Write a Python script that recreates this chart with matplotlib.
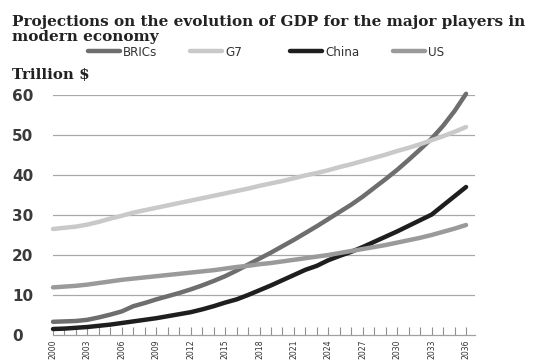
import numpy as np
import matplotlib.pyplot as plt
from matplotlib.ticker import MultipleLocator
from matplotlib import font_manager

# data (trillion $)
years = np.arange(2000, 2037)
brics = [3.3, 3.4, 3.5, 3.8, 4.4, 5.1, 5.9, 7.2, 8.0, 8.9,
         9.7, 10.5, 11.4, 12.4, 13.5, 14.7, 16.1, 17.6, 19.1, 20.6,
         22.2, 23.8, 25.5, 27.2, 29.0, 30.8, 32.6, 34.6, 36.8, 39.0,
         41.3, 43.8, 46.4, 49.1, 52.3, 56.0, 60.3]
g7 = [26.5, 26.8, 27.1, 27.6, 28.3, 29.1, 29.8, 30.6, 31.2, 31.8,
      32.4, 33.0, 33.6, 34.2, 34.8, 35.4, 36.0, 36.6, 37.3, 37.9,
      38.5, 39.2, 39.9, 40.5, 41.2, 42.0, 42.7, 43.5, 44.3, 45.1,
      46.0, 46.8, 47.7, 48.7, 49.7, 50.8, 52.0]
china = [1.5, 1.6, 1.8, 2.0, 2.3, 2.6, 3.0, 3.4, 3.8, 4.2,
         4.7, 5.2, 5.7, 6.4, 7.2, 8.1, 8.9, 10.0, 11.2, 12.4,
         13.7, 15.0, 16.3, 17.3, 18.7, 19.8, 20.8, 22.0, 23.3, 24.6,
         25.9, 27.3, 28.7, 30.1, 32.4, 34.7, 37.0]
us = [11.9, 12.1, 12.3, 12.6, 13.0, 13.4, 13.8, 14.1, 14.4, 14.7,
      15.0, 15.3, 15.6, 15.9, 16.2, 16.6, 17.0, 17.3, 17.7, 18.0,
      18.4, 18.8, 19.2, 19.6, 20.0, 20.5, 21.0, 21.5, 22.0, 22.5,
      23.1, 23.7, 24.3, 25.0, 25.8, 26.6, 27.5]

series = [('BRICs', brics, '#6e6e6e'),
          ('G7', g7, '#c9c9c9'),
          ('China', china, '#1e1e1e'),
          ('US', us, '#9a9a9a')]

# condensed sans for legend and year labels
cond = font_manager.FontProperties(family='DejaVu Sans', stretch='condensed', size=9.5)
cond_x = font_manager.FontProperties(family='DejaVu Sans', stretch='condensed', size=6.2)

W, H = 533, 361
fig = plt.figure(figsize=(W / 100, H / 100), dpi=100)
ax = fig.add_axes([53 / W, 1 - 335 / H, (475 - 53) / W, (335 - 95) / H])

lines = []
for name, vals, col in series:
    ln, = ax.plot(years, vals, color=col, lw=3.2, label=name,
                  solid_capstyle='round', clip_on=False, zorder=3)
    lines.append(ln)

ax.set_xlim(2000, 2036.78)
ax.set_ylim(0, 60)

# grid lines
for v in range(10, 70, 10):
    ax.axhline(v, color='#a8a8a8', lw=0.9, zorder=1)

for s in ['top', 'right', 'left']:
    ax.spines[s].set_visible(False)
ax.spines['bottom'].set_color('#a0a0a0')
ax.spines['bottom'].set_linewidth(0.9)

ax.xaxis.set_major_locator(MultipleLocator(3))
ax.xaxis.set_minor_locator(MultipleLocator(1))
ax.tick_params(axis='x', which='both', direction='in', length=6,
               width=0.8, color='#909090', pad=3)
ax.tick_params(axis='y', length=0, pad=29.5)
ax.set_yticks(range(0, 70, 10))
for lab in ax.get_yticklabels():
    lab.set_horizontalalignment('left')
    lab.set_fontsize(11)
    lab.set_fontweight('bold')
    lab.set_color('#3a3a3a')
    lab.set_family('DejaVu Sans')

ax.set_xticks(range(2000, 2037, 3))
ax.set_xticklabels([str(y) for y in range(2000, 2037, 3)], rotation=90,
                   fontproperties=cond_x, color='#333333')

# title and unit
fig.text(12 / W, 1 - 26 / H, 'Projections on the evolution of GDP for the major players in',
         ha='left', va='baseline', fontsize=11, fontweight='bold',
         family='DejaVu Serif', color='#222222')
fig.text(12 / W, 1 - 41 / H, 'modern economy',
         ha='left', va='baseline', fontsize=11, fontweight='bold',
         family='DejaVu Serif', color='#222222')
fig.text(12 / W, 1 - 79 / H, 'Trillion $', ha='left', va='baseline',
         fontsize=10.8, fontweight='bold', family='DejaVu Serif', color='#222222')

# legend: one entry per slot, evenly spaced like the original
for ln, x0 in zip(lines, [88, 190, 290, 393]):
    leg = fig.legend(handles=[ln], loc='center left',
                     bbox_to_anchor=(x0 / W, 1 - 52 / H), frameon=False,
                     handlelength=2.4, handletextpad=0.25, borderpad=0,
                     borderaxespad=0, prop=cond)
    for t in leg.get_texts():
        t.set_color('#333333')

fig.savefig('out.png', dpi=100)
